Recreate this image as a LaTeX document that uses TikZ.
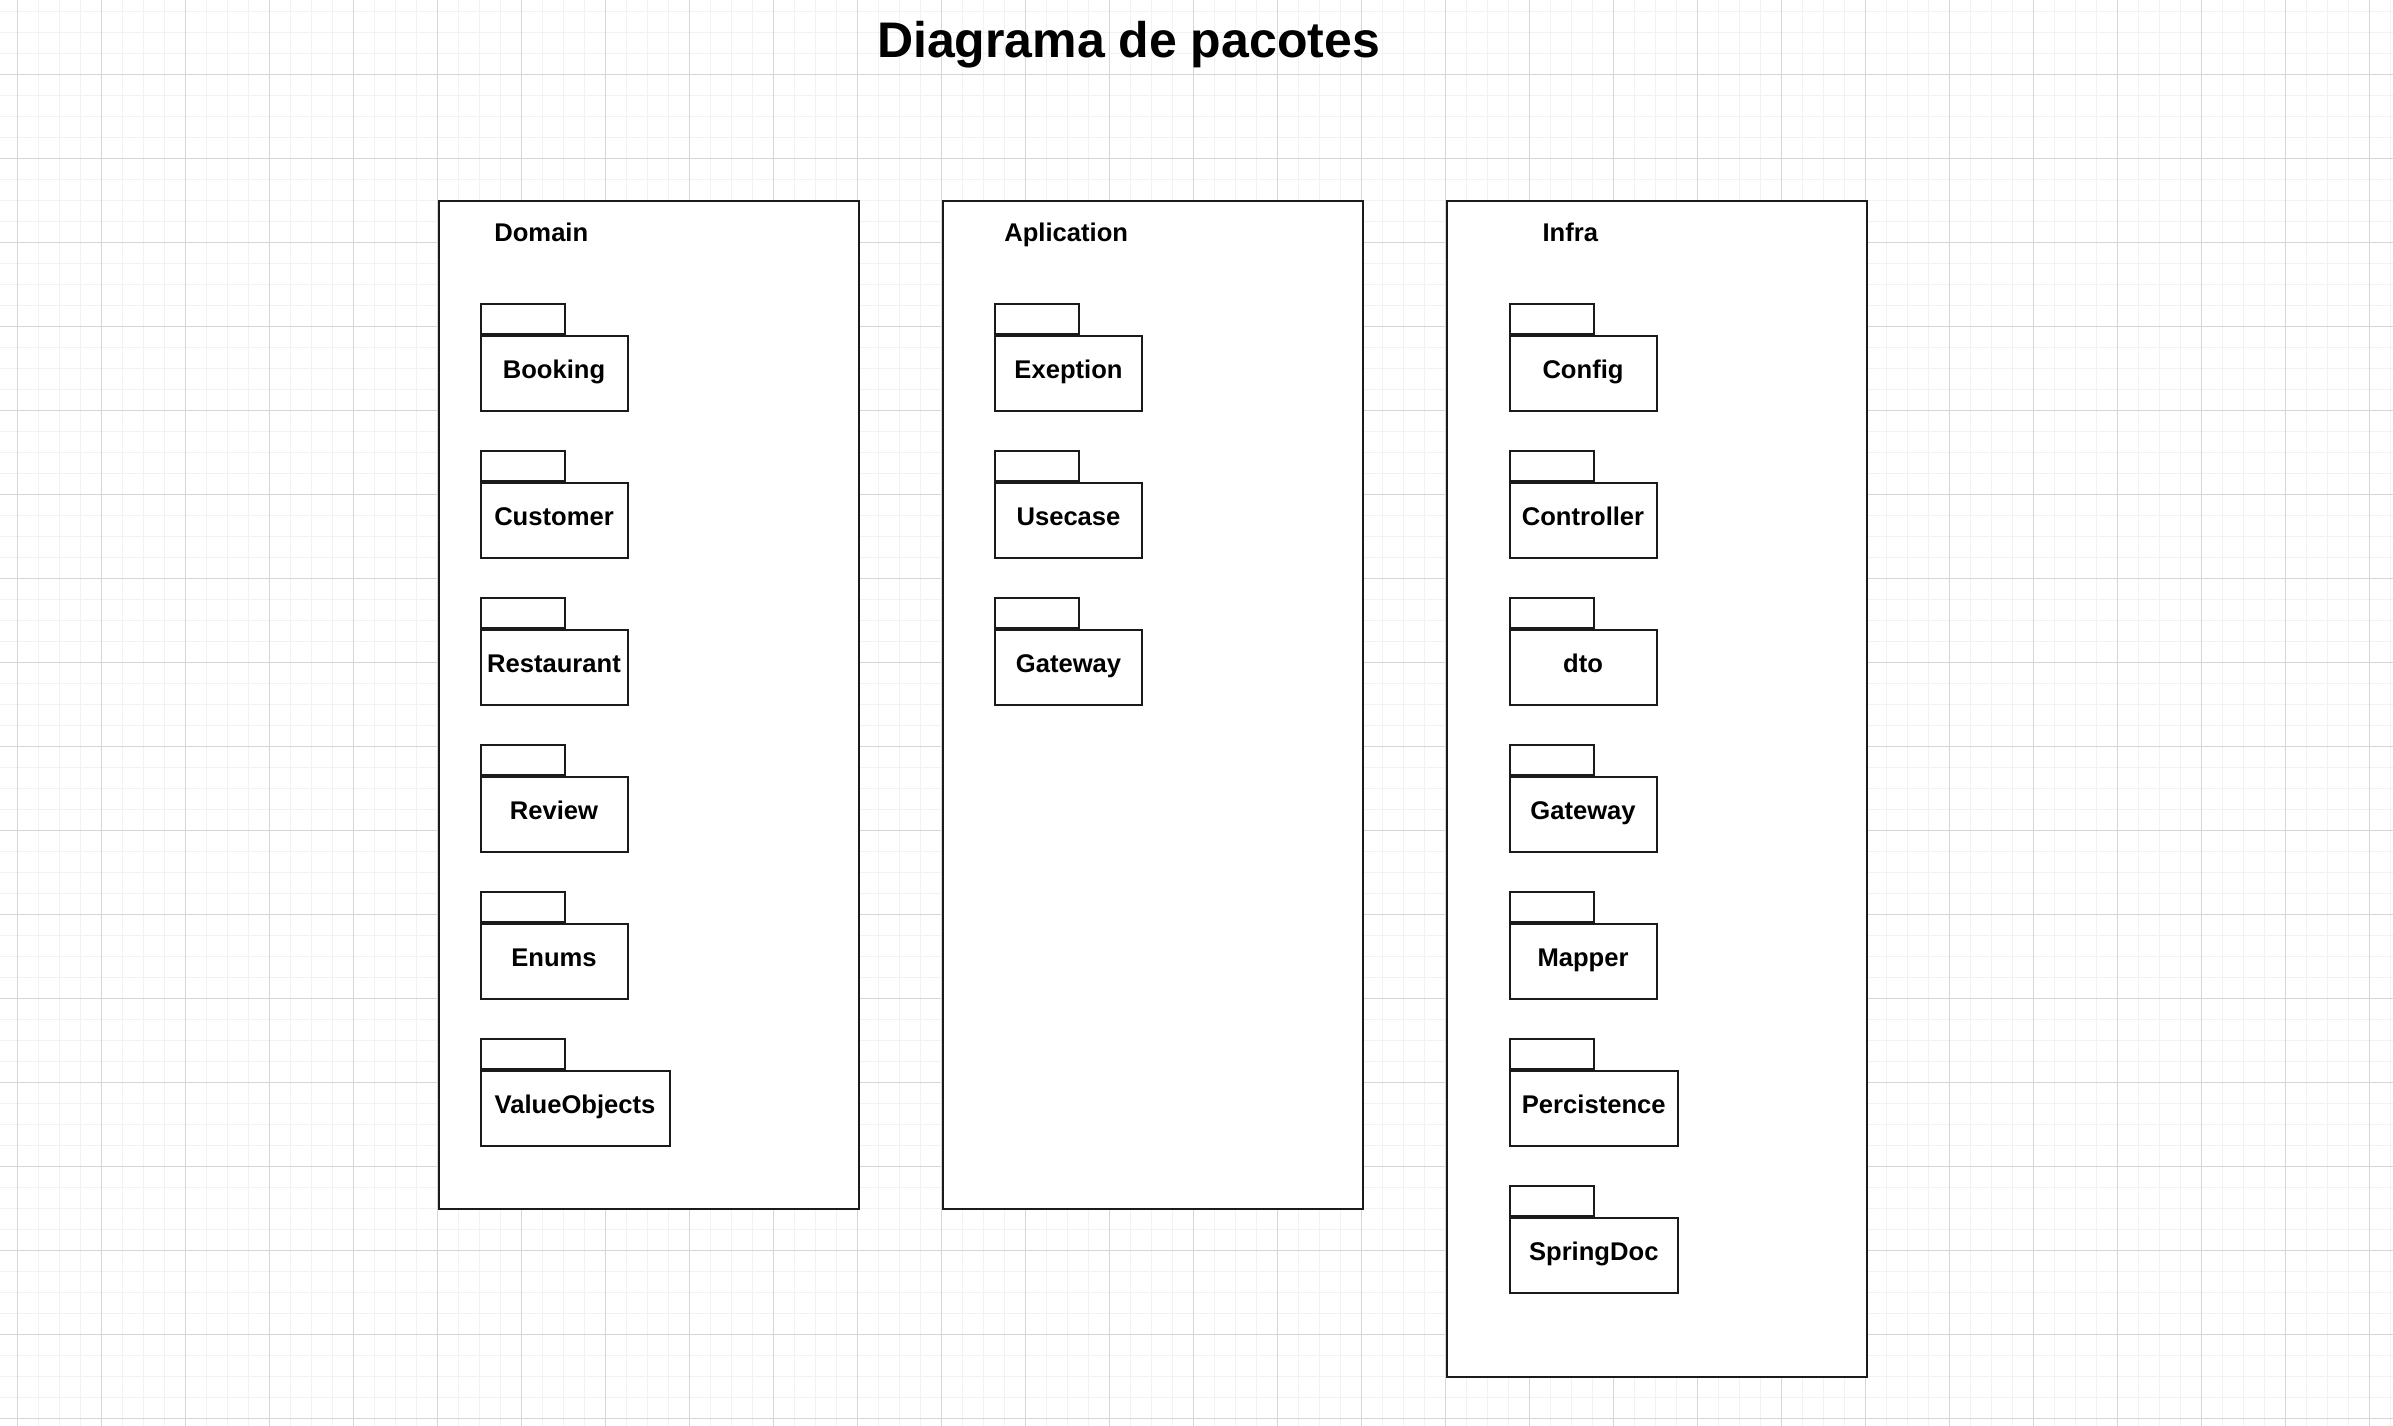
\documentclass[tikz,border=0pt]{standalone}
\usepackage{fontspec}
\setmainfont{Liberation Sans}
\definecolor{gridminor}{HTML}{F2F2F2}
\definecolor{gridmajor}{HTML}{D6D6D6}
\definecolor{ink}{HTML}{1A1A1A}
\begin{document}
\begin{tikzpicture}[x=1pt,y=-1pt,
  container/.style={draw=ink, line width=2pt, fill=white, inner sep=0pt, anchor=north west, minimum width=420pt},
  pkgbody/.style={draw=ink, line width=2pt, fill=white, inner sep=0pt, anchor=north west, minimum height=75.6pt, minimum width=147pt,
     font=\fontsize{25.6pt}{28pt}\selectfont\bfseries, text height=19pt, text depth=9.2pt},
  widebody/.style={pkgbody, minimum width=189pt},
  midbody/.style={pkgbody, minimum width=168.5pt},
  pkgtab/.style={draw=ink, line width=2pt, fill=white, inner sep=0pt, anchor=south west, minimum width=84pt, minimum height=29.4pt},
  grouplabel/.style={font=\fontsize{25.6pt}{28pt}\selectfont\bfseries, anchor=base, inner sep=0pt},
  titlelabel/.style={font=\fontsize{50pt}{56pt}\selectfont\bfseries, anchor=base, inner sep=0pt}
]
\useasboundingbox (0,0) rectangle (2393,1426);
\fill[white] (0,0) rectangle (2393,1426);
% grid
\foreach \k in {0,...,114} {
  \draw[gridminor, line width=1.5pt] ({-3.5+21*\k},0) -- ({-3.5+21*\k},1426);
}
\foreach \k in {0,...,68} {
  \draw[gridminor, line width=1.5pt] (0,{11.3+21*\k}) -- (2393,{11.3+21*\k});
}
\foreach \k in {0,...,28} {
  \draw[gridmajor, line width=1pt] ({17.5+84*\k},0) -- ({17.5+84*\k},1426);
}
\foreach \k in {0,...,17} {
  \draw[gridmajor, line width=1pt] (0,{-9.7+84*\k}) -- (2393,{-9.7+84*\k});
}

% title
\node[titlelabel] (title) at (1128.5,58) {Diagrama de pacotes};

% containers
\node[container, minimum height=1008pt] (domain) at (437.5,200.3) {};
\node[container, minimum height=1008pt] (aplication) at (941.5,200.3) {};
\node[container, minimum height=1176pt] (infra) at (1445.5,200.3) {};

\node[grouplabel] (domainlbl) at (541.3,241) {Domain};
\node[grouplabel] (aplicationlbl) at (1066.2,241) {Aplication};
\node[grouplabel] (infralbl) at (1570.3,241) {Infra};

% Domain packages
\node[pkgbody] (booking) at (479.5,334.7) {Booking};
\node[pkgtab] (bookingtab) at (booking.north west) {};
\node[pkgbody] (customer) at (479.5,481.7) {Customer};
\node[pkgtab] (customertab) at (customer.north west) {};
\node[pkgbody] (restaurant) at (479.5,628.7) {Restaurant};
\node[pkgtab] (restauranttab) at (restaurant.north west) {};
\node[pkgbody] (review) at (479.5,775.7) {Review};
\node[pkgtab] (reviewtab) at (review.north west) {};
\node[pkgbody] (enums) at (479.5,922.7) {Enums};
\node[pkgtab] (enumstab) at (enums.north west) {};
\node[widebody] (valueobjects) at (479.5,1069.7) {ValueObjects};
\node[pkgtab] (valueobjectstab) at (valueobjects.north west) {};

% Aplication packages
\node[pkgbody] (exeption) at (994,334.7) {Exeption};
\node[pkgtab] (exeptiontab) at (exeption.north west) {};
\node[pkgbody] (usecase) at (994,481.7) {Usecase};
\node[pkgtab] (usecasetab) at (usecase.north west) {};
\node[pkgbody] (appgateway) at (994,628.7) {Gateway};
\node[pkgtab] (appgatewaytab) at (appgateway.north west) {};

% Infra packages
\node[pkgbody] (config) at (1508.5,334.7) {Config};
\node[pkgtab] (configtab) at (config.north west) {};
\node[pkgbody] (controller) at (1508.5,481.7) {Controller};
\node[pkgtab] (controllertab) at (controller.north west) {};
\node[pkgbody] (dto) at (1508.5,628.7) {dto};
\node[pkgtab] (dtotab) at (dto.north west) {};
\node[pkgbody] (infragateway) at (1508.5,775.7) {Gateway};
\node[pkgtab] (infragatewaytab) at (infragateway.north west) {};
\node[pkgbody] (mapper) at (1508.5,922.7) {Mapper};
\node[pkgtab] (mappertab) at (mapper.north west) {};
\node[midbody] (percistence) at (1508.5,1069.7) {Percistence};
\node[pkgtab] (percistencetab) at (percistence.north west) {};
\node[midbody] (springdoc) at (1508.5,1216.7) {SpringDoc};
\node[pkgtab] (springdoctab) at (springdoc.north west) {};
\end{tikzpicture}
\end{document}
